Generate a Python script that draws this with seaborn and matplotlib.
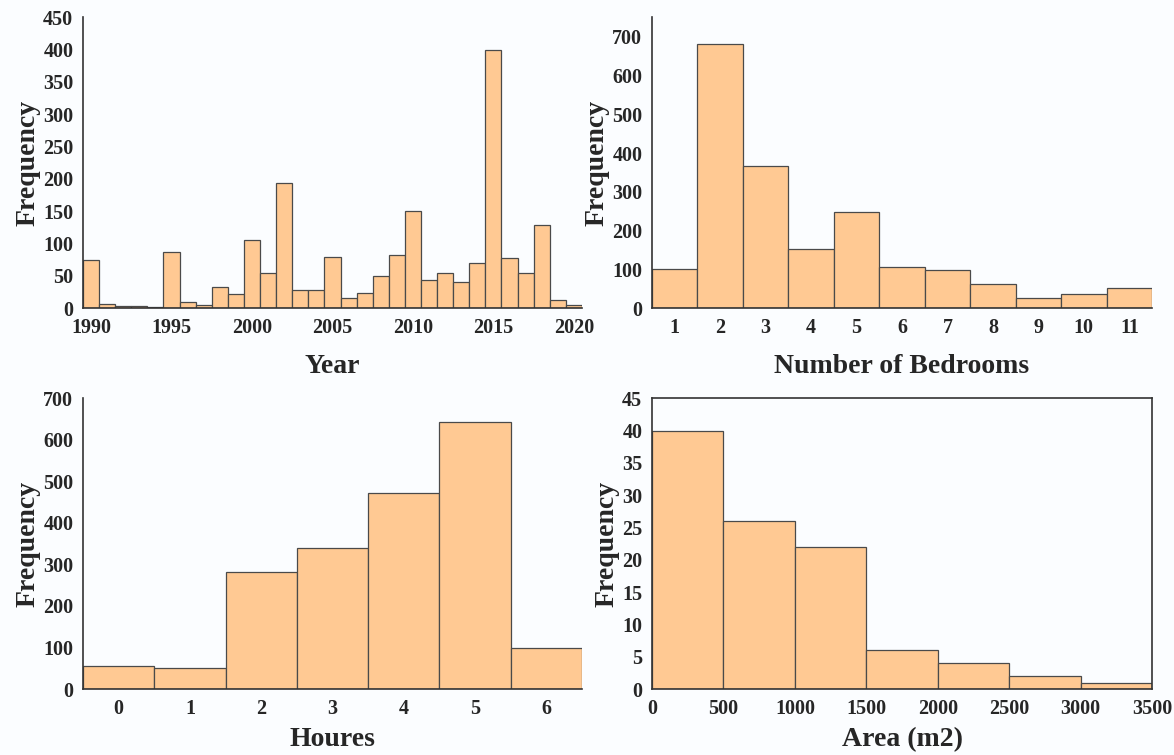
import numpy as np
import pandas as pd
import seaborn as sns
import matplotlib.pyplot as plt

# # # values # # #

years = list(range(1990, 2021))
year_counts = [74, 6, 3, 3, 1, 86, 10, 4, 32, 22, 105, 55, 194, 28, 28, 79,
               16, 23, 49, 82, 150, 43, 55, 41, 70, 400, 77, 55, 129, 13, 4]

bedrooms = list(range(1, 12))
bedroom_counts = [102, 681, 366, 153, 247, 107, 97, 62, 26, 36, 52]

hours = list(range(0, 7))
hour_counts = [55, 50, 281, 340, 471, 644, 99]

area_edges = [0, 500, 1000, 1500, 2000, 2500, 3000, 3500]
area_counts = [40, 26, 22, 6, 4, 2, 1]

sns.set_style('white')
plt.rcParams['font.family'] = ['Liberation Serif', 'DejaVu Serif']
plt.rcParams['font.weight'] = 'bold'

bar_color = '#ffc993'
edge = '#4a4a4a'
bg = '#fbfdff'

fig = plt.figure(figsize=(11.74, 7.55), dpi=100, facecolor=bg)
ax1 = fig.add_axes([0.0707, 0.592, 0.425, 0.385])
ax2 = fig.add_axes([0.5554, 0.592, 0.4259, 0.385])
ax3 = fig.add_axes([0.0707, 0.0874, 0.425, 0.385])
ax4 = fig.add_axes([0.5554, 0.0874, 0.4259, 0.385])

area_mid = [(a + b) / 2 for a, b in zip(area_edges[:-1], area_edges[1:])]

sns.histplot(x=years, weights=year_counts, discrete=True, ax=ax1,
             color=bar_color, edgecolor=edge, linewidth=0.9, alpha=1)
sns.histplot(x=bedrooms, weights=bedroom_counts, discrete=True, ax=ax2,
             color=bar_color, edgecolor=edge, linewidth=0.9, alpha=1)
sns.histplot(x=hours, weights=hour_counts, discrete=True, ax=ax3,
             color=bar_color, edgecolor=edge, linewidth=0.9, alpha=1)
sns.histplot(x=area_mid, weights=area_counts, bins=area_edges, ax=ax4,
             color=bar_color, edgecolor=edge, linewidth=0.9, alpha=1)

ax1.set_xlim(1989.5, 2020.5)
ax1.set_ylim(0, 450)
ax1.set_xticks(range(1990, 2021, 5))
ax1.set_yticks(range(0, 451, 50))
ax1.set_xlabel('Year')

ax2.set_xlim(0.5, 11.5)
ax2.set_ylim(0, 750)
ax2.set_xticks(bedrooms)
ax2.set_yticks(range(0, 701, 100))
ax2.set_xlabel('Number of Bedrooms')

ax3.set_xlim(-0.5, 6.5)
ax3.set_ylim(0, 700)
ax3.set_xticks(hours)
ax3.set_yticks(range(0, 701, 100))
ax3.set_xlabel('Houres')

ax4.set_xlim(0, 3500)
ax4.set_ylim(0, 45)
ax4.set_xticks(area_edges)
ax4.set_yticks(range(0, 46, 5))
ax4.set_xlabel('Area (m2)')

for ax in [ax1, ax2, ax3, ax4]:
    ax.set_facecolor(bg)
    ax.set_ylabel('Frequency', fontsize=20, fontweight='bold', labelpad=2)
    ax.xaxis.label.set_fontsize(20)
    ax.xaxis.label.set_fontweight('bold')
    ax.xaxis.labelpad = 12 if ax in (ax1, ax2) else 6
    ax.tick_params(axis='both', length=0, labelsize=14.5, pad=7)
    for lab in ax.get_xticklabels() + ax.get_yticklabels():
        lab.set_fontweight('bold')
    for s in ax.spines.values():
        s.set_color('#333333')
        s.set_linewidth(1.2)
    if ax is not ax4:
        ax.spines['top'].set_visible(False)
        ax.spines['right'].set_visible(False)

fig.savefig('out.png', dpi=100, facecolor=bg)
